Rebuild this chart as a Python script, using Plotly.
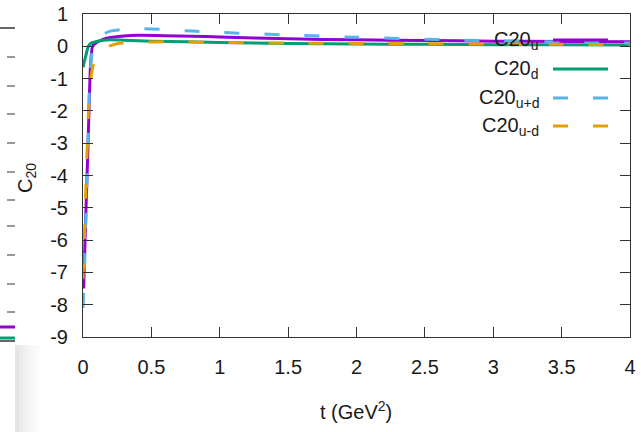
import plotly.graph_objects as go

# ---------------- data ----------------
t_u = [0.005, 0.015, 0.025, 0.035, 0.045, 0.055, 0.07, 0.1, 0.15, 0.2, 0.3, 0.4, 0.6, 0.8, 1.0, 1.5, 2.0, 2.5, 3.0, 3.5, 4.0]
c20_u = [-7.5, -6.0, -4.6, -3.3, -1.8, -0.6, 0.0, 0.12, 0.22, 0.27, 0.32, 0.34, 0.33, 0.31, 0.29, 0.23, 0.2, 0.18, 0.16, 0.15, 0.14]

t_d = [0.0, 0.02, 0.04, 0.06, 0.1, 0.2, 0.3, 0.5, 1.0, 1.5, 2.0, 2.5, 3.0, 3.5, 4.0]
c20_d = [-0.65, -0.3, 0.0, 0.1, 0.15, 0.2, 0.19, 0.16, 0.12, 0.09, 0.07, 0.06, 0.05, 0.045, 0.04]

t_upd = [0.0, 0.01, 0.02, 0.03, 0.04, 0.05, 0.07, 0.1, 0.15, 0.2, 0.3, 0.4, 0.6, 0.8, 1.0, 1.5, 2.0, 2.5, 3.0, 3.5, 4.0]
c20_upd = [-8.1, -7.0, -5.5, -4.0, -2.5, -1.0, -0.1, 0.2, 0.38, 0.47, 0.53, 0.55, 0.52, 0.47, 0.43, 0.35, 0.28, 0.22, 0.17, 0.13, 0.1]

t_umd = [0.0, 0.01, 0.02, 0.03, 0.04, 0.06, 0.08, 0.1, 0.13, 0.17, 0.25, 0.4, 0.6, 1.0, 1.5, 2.0, 2.5, 3.0, 3.5, 4.0]
c20_umd = [-7.2, -6.0, -4.5, -3.2, -2.0, -0.9, -0.5, -0.3, -0.15, -0.03, 0.08, 0.12, 0.14, 0.12, 0.1, 0.09, 0.08, 0.07, 0.06, 0.05]

x_ticks = [0, 0.5, 1, 1.5, 2, 2.5, 3, 3.5, 4]
x_ticklabels = ["0", "0.5", "1", "1.5", "2", "2.5", "3", "3.5", "4"]
y_ticks = [1, 0, -1, -2, -3, -4, -5, -6, -7, -8, -9]
y_ticklabels = ["1", "0", "-1", "-2", "-3", "-4", "-5", "-6", "-7", "-8", "-9"]

names = ["C20<sub>u</sub>", "C20<sub>d</sub>", "C20<sub>u+d</sub>", "C20<sub>u-d</sub>"]
colors = ["#9400D3", "#009E73", "#56B4E9", "#E69F00"]
dashes = ["solid", "solid", "15px,25px", "15px,25px"]

# ---------------- layout geometry ----------------
W, H = 641, 432
L, R, T, B = 83, 630, 14, 337
FONT = "Liberation Sans, Arial, Helvetica, sans-serif"
TXT = "#1a1a1a"


def px(x):
    return (x - L) / (R - L)


def py(y):
    return (B - y) / (B - T)


fig = go.Figure()
series = [(t_u, c20_u), (t_d, c20_d), (t_upd, c20_upd), (t_umd, c20_umd)]
for (tx, ty), nm, col, ds in zip(series, names, colors, dashes):
    fig.add_trace(go.Scatter(x=tx, y=ty, mode="lines", name=nm,
                             line=dict(color=col, width=3, dash=ds, shape="spline", smoothing=0.6),
                             showlegend=False))

shapes = []
annotations = []

# custom gnuplot-style key (text right-aligned, sample to the right)
rows_y = [40, 69, 98, 126]
for nm, col, ds, ry in zip(names, colors, dashes, rows_y):
    annotations.append(dict(xref="paper", yref="paper", x=px(541), y=py(ry), text=nm,
                            showarrow=False, xanchor="right", yanchor="middle",
                            font=dict(family=FONT, size=20, color=TXT)))
    shapes.append(dict(type="line", xref="paper", yref="paper",
                       x0=px(553), x1=px(608), y0=py(ry), y1=py(ry),
                       line=dict(color=col, width=3, dash=ds)))

# axis titles
annotations.append(dict(xref="paper", yref="paper", x=px(26), y=py(178), text="C<sub>20</sub>",
                        showarrow=False, textangle=-90, xanchor="center", yanchor="middle",
                        font=dict(family=FONT, size=20, color=TXT)))
annotations.append(dict(xref="paper", yref="paper", x=px(356), y=py(410), text="t (GeV<sup>2</sup>)",
                        showarrow=False, xanchor="center", yanchor="middle",
                        font=dict(family=FONT, size=20, color=TXT)))

# background fragment of a neighbouring chart on the far left
shapes.append(dict(type="line", xref="paper", yref="paper", x0=px(0), x1=px(15), y0=py(28), y1=py(28),
                   line=dict(color="#333333", width=1.5), layer="below"))
for yy in [57, 86, 114, 143, 172, 200, 226, 255, 284, 312]:
    shapes.append(dict(type="line", xref="paper", yref="paper", x0=px(7), x1=px(15), y0=py(yy), y1=py(yy),
                       line=dict(color="#777777", width=1.5), layer="below"))
shapes.append(dict(type="line", xref="paper", yref="paper", x0=px(0), x1=px(15), y0=py(327), y1=py(327),
                   line=dict(color="#9400D3", width=3), layer="below"))
shapes.append(dict(type="line", xref="paper", yref="paper", x0=px(0), x1=px(15), y0=py(338), y1=py(338),
                   line=dict(color="#009E73", width=3), layer="below"))
shapes.append(dict(type="line", xref="paper", yref="paper", x0=px(0), x1=px(15), y0=py(341), y1=py(341),
                   line=dict(color="#333333", width=1.5), layer="below"))
for i, op in enumerate([0.10, 0.08, 0.06, 0.045, 0.03, 0.02]):
    shapes.append(dict(type="rect", xref="paper", yref="paper",
                       x0=px(15 + i * 4), x1=px(19 + i * 4), y0=py(432), y1=py(345),
                       fillcolor="#000000", opacity=op, line=dict(width=0), layer="below"))

fig.update_layout(
    width=W, height=H,
    margin=dict(l=L, r=W - R, t=T, b=H - B, pad=0, autoexpand=False),
    paper_bgcolor="white", plot_bgcolor="white",
    font=dict(family=FONT, size=20, color=TXT),
    showlegend=False,
    shapes=shapes, annotations=annotations,
)
fig.update_xaxes(range=[0, 4], tickvals=x_ticks, ticktext=x_ticklabels,
                 ticks="inside", ticklen=10, tickcolor="#333333", tickwidth=1,
                 showline=True, linecolor="#333333", linewidth=1, mirror="ticks",
                 showgrid=False, zeroline=False, ticklabelstandoff=12, automargin=False,
                 tickfont=dict(family=FONT, size=20, color=TXT))
fig.update_yaxes(range=[-9, 1], tickvals=y_ticks, ticktext=y_ticklabels,
                 ticks="inside", ticklen=10, tickcolor="#333333", tickwidth=1,
                 showline=True, linecolor="#333333", linewidth=1, mirror="ticks",
                 showgrid=False, zeroline=False, ticklabelstandoff=10, automargin=False,
                 tickfont=dict(family=FONT, size=20, color=TXT))

fig.write_html("out.html")
